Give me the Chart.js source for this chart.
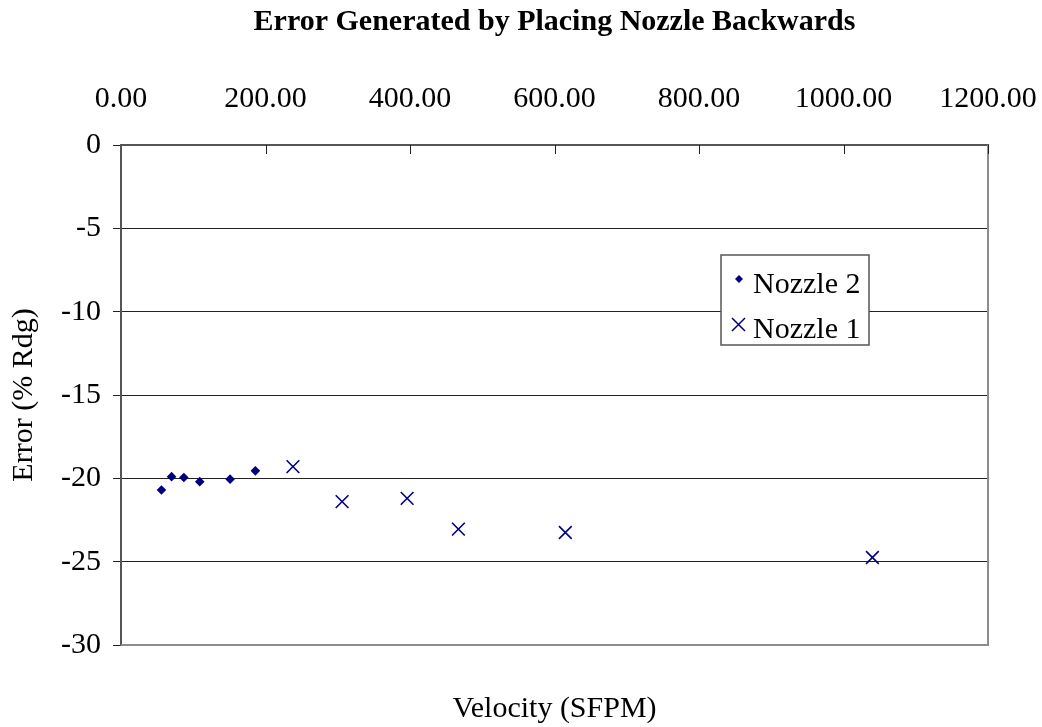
<!DOCTYPE html>
<html>
<head>
  <title>Error Generated by Placing Nozzle Backwards</title>
  <script src="https://cdn.jsdelivr.net/npm/chart.js"></script>
  <style>
    body { margin: 0; background: #fff; }
    #wrap { width: 1042px; height: 727px; }
  </style>
</head>
<body>
  <div id="wrap"><canvas id="errChart"></canvas></div>

  <script>
    // velocities (SFPM) and errors (% Rdg)
    const nozzle2Vel = [56, 70, 87, 109, 151, 186];
    const nozzle2Err = [-20.7, -19.9, -19.95, -20.2, -20.05, -19.55];
    const nozzle1Vel = [238, 306, 396, 467, 615, 1040];
    const nozzle1Err = [-19.3, -21.4, -21.2, -23.05, -23.25, -24.75];
    const seriesNames = ["Nozzle 2", "Nozzle 1"];
    const xMin = 0, xMax = 1200, xStep = 200;
    const yMin = -30, yMax = 0, yStep = 5;

    const serif = "'Liberation Serif', 'Times New Roman', serif";
    const navy = "#000080";

    const toPts = (xs, ys) => xs.map((x, i) => ({ x, y: ys[i] }));

    // right/bottom border, inward ticks on top axis, legend box
    const frame = {
      id: "frame",
      beforeDatasetsDraw(chart) {
        const { ctx, chartArea: a, scales } = chart;
        ctx.save();
        ctx.strokeStyle = "#8c8c8c";
        ctx.lineWidth = 2;
        ctx.beginPath();
        ctx.moveTo(a.left, a.bottom);
        ctx.lineTo(a.right, a.bottom);
        ctx.lineTo(a.right, a.top);
        ctx.stroke();
        ctx.strokeStyle = "#222";
        ctx.lineWidth = 1;
        scales.x.ticks.forEach(t => {
          if (t.value === xMin) return;
          const px = Math.round(scales.x.getPixelForValue(t.value)) + 0.5;
          ctx.beginPath();
          ctx.moveTo(px, a.top);
          ctx.lineTo(px, a.top + 9);
          ctx.stroke();
        });
        ctx.restore();
      },
      afterDraw(chart) {
        const { ctx } = chart;
        const bx = 721, by = 255, bw = 148, bh = 90;
        ctx.save();
        ctx.fillStyle = "#fff";
        ctx.fillRect(bx, by, bw, bh);
        ctx.strokeStyle = "#555";
        ctx.lineWidth = 1.5;
        ctx.strokeRect(bx, by, bw, bh);
        ctx.font = "30px " + serif;
        ctx.fillStyle = "#000";
        ctx.textBaseline = "alphabetic";
        ctx.fillText(seriesNames[0], 753, 293);
        ctx.fillText(seriesNames[1], 753, 338);
        ctx.fillStyle = navy;
        ctx.beginPath();
        ctx.moveTo(739, 275); ctx.lineTo(743, 279); ctx.lineTo(739, 283); ctx.lineTo(735, 279);
        ctx.closePath();
        ctx.fill();
        ctx.strokeStyle = navy;
        ctx.lineWidth = 1.5;
        ctx.beginPath();
        ctx.moveTo(732, 318); ctx.lineTo(745, 331);
        ctx.moveTo(745, 318); ctx.lineTo(732, 331);
        ctx.stroke();
        ctx.restore();
      }
    };

    new Chart(document.getElementById("errChart"), {
      type: "scatter",
      data: {
        datasets: [
          {
            label: seriesNames[0],
            data: toPts(nozzle2Vel, nozzle2Err),
            pointStyle: "rectRot",
            radius: 4.8,
            backgroundColor: navy,
            borderColor: navy,
            borderWidth: 0
          },
          {
            label: seriesNames[1],
            data: toPts(nozzle1Vel, nozzle1Err),
            pointStyle: "crossRot",
            radius: 9,
            backgroundColor: navy,
            borderColor: navy,
            borderWidth: 1.6
          }
        ]
      },
      options: {
        responsive: true,
        maintainAspectRatio: false,
        animation: false,
        layout: { padding: { left: 0, right: 54, top: 0, bottom: 0 } },
        plugins: {
          legend: { display: false },
          tooltip: { enabled: false },
          title: {
            display: true,
            fullSize: false,
            text: "Error Generated by Placing Nozzle Backwards",
            color: "#000",
            font: { family: serif, size: 30, weight: "bold" },
            padding: { top: 4, bottom: 10 }
          },
          subtitle: {
            display: true,
            position: "bottom",
            fullSize: false,
            text: "Velocity (SFPM)",
            color: "#000",
            font: { family: serif, size: 30 },
            padding: { top: 46, bottom: 0 }
          }
        },
        scales: {
          x: {
            type: "linear",
            position: "top",
            min: xMin,
            max: xMax,
            afterFit(s) {
              s.height = 95;
              s.paddingLeft = 0;
              s.paddingRight = 0;
            },
            ticks: {
              stepSize: xStep,
              padding: 28,
              color: "#000",
              font: { family: serif, size: 30 },
              callback: v => Number(v).toFixed(2)
            },
            grid: { drawOnChartArea: false, drawTicks: false },
            border: { color: "#555", width: 2 }
          },
          y: {
            min: yMin,
            max: yMax,
            afterFit(s) { s.width = 121; },
            ticks: {
              stepSize: yStep,
              padding: 12,
              color: "#000",
              font: { family: serif, size: 30 }
            },
            grid: { color: "#222", lineWidth: 1, tickLength: 8 },
            border: { color: "#555", width: 2 },
            title: {
              display: true,
              text: "Error (% Rdg)",
              color: "#000",
              font: { family: serif, size: 30 },
              padding: { top: 6, bottom: 0 }
            }
          }
        }
      },
      plugins: [frame]
    });
  </script>
</body>
</html>
